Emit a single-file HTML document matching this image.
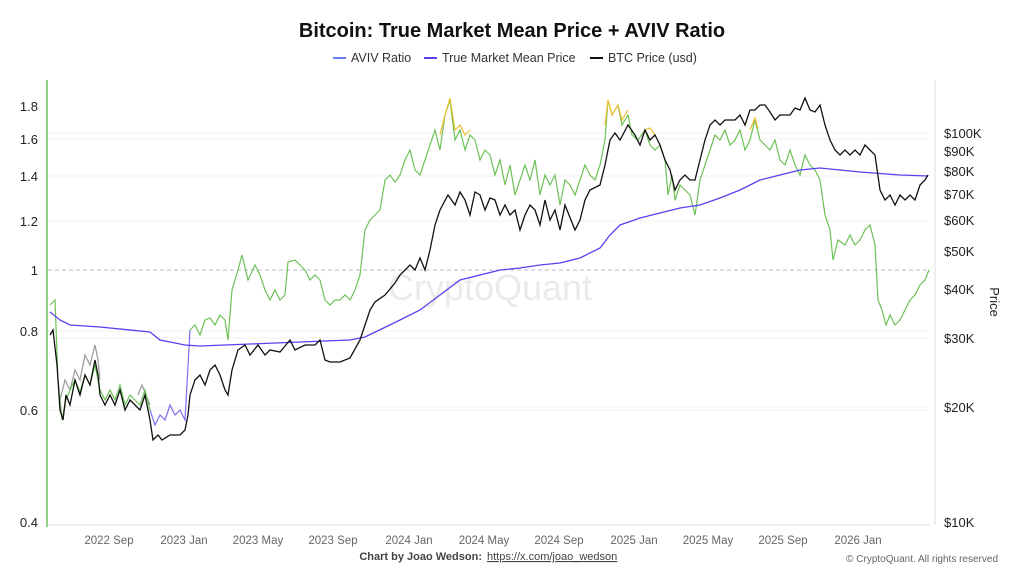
<!DOCTYPE html>
<html><head><style>
body{margin:0;background:#fff;font-family:"Liberation Sans",sans-serif;}
svg text{font-family:"Liberation Sans",sans-serif;}
</style></head><body>
<svg width="1024" height="576" viewBox="0 0 1024 576" xmlns="http://www.w3.org/2000/svg">
<text x="512" y="37" text-anchor="middle" font-size="20" font-weight="bold" fill="#111">Bitcoin: True Market Mean Price + AVIV Ratio</text>
<g font-size="12.5" fill="#333">
<line x1="333" y1="58" x2="346" y2="58" stroke="#6c7ef5" stroke-width="2"/><text x="351" y="62">AVIV Ratio</text>
<line x1="424" y1="58" x2="437" y2="58" stroke="#5b3ff0" stroke-width="2"/><text x="442" y="62">True Market Mean Price</text>
<line x1="590" y1="58" x2="603" y2="58" stroke="#111" stroke-width="2"/><text x="608" y="62">BTC Price (usd)</text>
</g>
<g stroke="#f2f2f2" stroke-width="1">
<line x1="48" y1="139" x2="930" y2="139"/><line x1="48" y1="176" x2="930" y2="176"/><line x1="48" y1="221" x2="930" y2="221"/><line x1="48" y1="331" x2="930" y2="331"/><line x1="48" y1="410" x2="930" y2="410"/><line x1="48" y1="133" x2="930" y2="133"/><line x1="48" y1="338" x2="930" y2="338"/><line x1="48" y1="407" x2="930" y2="407"/>
</g>
<line x1="48" y1="270" x2="930" y2="270" stroke="#b8b8d0" stroke-dasharray="4,3"/>
<line x1="47" y1="80" x2="47" y2="527" stroke="#6cc35a" stroke-width="1.5"/>
<line x1="935" y1="80" x2="935" y2="525" stroke="#ddd"/>
<line x1="48" y1="525" x2="930" y2="525" stroke="#e3e3e3"/>
<g font-size="13" fill="#222" text-anchor="end">
<text x="38" y="111">1.8</text><text x="38" y="144">1.6</text><text x="38" y="181">1.4</text><text x="38" y="226">1.2</text><text x="38" y="275">1</text><text x="38" y="336">0.8</text><text x="38" y="415">0.6</text><text x="38" y="527">0.4</text>
</g>
<g font-size="13" fill="#222">
<text x="944" y="138">$100K</text><text x="944" y="156">$90K</text><text x="944" y="176">$80K</text><text x="944" y="199">$70K</text><text x="944" y="225">$60K</text><text x="944" y="256">$50K</text><text x="944" y="294">$40K</text><text x="944" y="343">$30K</text><text x="944" y="412">$20K</text><text x="944" y="527">$10K</text>
</g>
<text x="990" y="302" font-size="13" fill="#222" transform="rotate(90 990 302)" text-anchor="middle">Price</text>
<g font-size="11.5" fill="#666" text-anchor="middle">
<text x="109" y="544">2022 Sep</text><text x="184" y="544">2023 Jan</text><text x="258" y="544">2023 May</text><text x="333" y="544">2023 Sep</text><text x="409" y="544">2024 Jan</text><text x="484" y="544">2024 May</text><text x="559" y="544">2024 Sep</text><text x="634" y="544">2025 Jan</text><text x="708" y="544">2025 May</text><text x="783" y="544">2025 Sep</text><text x="858" y="544">2026 Jan</text>
</g>
<text x="490" y="300" font-size="36" fill="#000" opacity="0.08" text-anchor="middle">CryptoQuant</text>
<polyline fill="none" stroke="#999" stroke-width="1.2" points="60,400 65,380 70,390 75,370 80,380 85,355 90,365 95,345 98,360 100,380"/>
<polyline fill="none" stroke="#999" stroke-width="1.2" points="138,395 142,385 146,395 150,405"/>
<polyline fill="none" stroke="#6dc257" stroke-width="1.2" points="50,305 55,300 58,380 62,420 66,400 70,390 75,380 80,392 85,375 90,385 95,365 100,390 105,400 110,390 115,400 120,385 125,405 130,395 135,400 140,405 145,390 150,410"/>
<polyline fill="none" stroke="#6dc257" stroke-width="1.2" points="190,330 195,325 200,335 205,320 210,318 215,325 220,315 225,320 228,340 232,290 238,270 242,255 248,280 255,265 260,275 265,290 270,300 275,290 280,300 285,295 288,262 295,260 300,265 305,270 310,280 315,275 320,280 325,300 330,305 335,300 340,300 345,295 350,300 355,290 360,275 365,230 370,220 375,215 380,210 385,180 390,175 395,182 400,175 405,160 410,150 415,170 420,175 425,160 430,145 435,130 440,150 445,115 450,100 455,140 460,130 465,150 470,135 475,140 480,160 485,150 490,155 495,175 500,160 505,185 510,165 515,195 520,180 525,165 530,180 535,160 540,195 545,175 550,185 555,175 560,205 565,180 570,185 575,195 580,180 585,165 590,175 595,180 600,165 605,140 608,100 612,115 618,105 622,125 628,115 632,135 638,140 645,130 650,145 655,150 660,145 665,160 668,195 672,175 675,200 680,185 685,190 690,195 695,215 700,180 705,165 710,150 715,135 720,140 725,130 730,145 735,140 740,130 745,150 750,140 755,120 760,140 765,145 770,150 775,140 780,160 785,165 790,150 795,165 800,175 805,155 810,165 815,170 820,180 825,215 830,230 833,260 838,240 845,245 850,235 855,245 860,240 865,230 870,225 875,245 878,300 882,310 886,325 890,315 895,325 900,320 905,310 910,300 915,295 920,285 925,280 929,270"/>
<polyline fill="none" stroke="#7a6ff0" stroke-width="1.2" points="150,410 155,425 160,415 165,420 170,405 175,415 180,410 185,420 190,330"/>
<g fill="none" stroke="#f0c030" stroke-width="1.2">
<polyline points="440,135 445,115 450,98 455,130 460,125 465,135 470,130"/>
<polyline points="605,125 608,100 612,115 618,105 622,120 628,110"/>
<polyline points="645,130 650,128 655,135"/>
<polyline points="750,130 755,118 758,128"/>
</g>
<polyline fill="none" stroke="#5b3ff0" stroke-width="1.3" points="50,312 60,320 70,325 100,327 150,332 160,340 185,345 200,346 250,344 300,342 350,340 365,337 400,320 420,310 440,295 460,280 480,275 500,270 520,268 540,265 560,263 580,258 600,248 610,235 620,225 640,218 660,213 680,208 700,205 720,198 740,190 760,180 780,175 800,170 820,168 840,170 860,172 900,175 928,176"/>
<polyline fill="none" stroke="#111" stroke-width="1.3" points="50,335 53,330 57,365 60,410 63,420 66,395 70,405 75,380 80,395 85,375 90,385 95,360 98,375 100,395 105,405 110,395 115,405 120,390 125,410 130,400 135,405 140,410 145,395 150,420 153,440 158,435 162,440 170,435 180,435 185,430 188,415 190,395 195,380 200,375 205,385 210,370 215,365 220,375 225,390 228,395 232,370 238,350 245,345 250,355 258,345 265,355 270,350 280,352 290,340 295,350 305,345 315,345 320,340 325,360 330,362 340,362 350,358 360,340 365,325 370,310 375,302 385,295 395,283 400,275 410,265 415,270 420,258 425,270 430,250 435,225 440,210 448,195 455,205 460,192 465,200 470,215 475,192 480,195 485,210 490,198 495,200 500,215 505,205 510,215 515,210 520,230 525,215 530,205 535,210 540,225 545,200 550,220 555,210 560,230 565,205 575,230 580,220 585,200 590,190 600,185 605,165 610,140 615,133 620,140 628,125 635,135 640,145 645,130 650,140 655,135 660,145 665,160 670,170 675,190 680,180 685,175 690,180 695,180 700,160 705,140 710,125 715,120 720,125 725,120 735,120 740,115 745,125 750,110 755,110 760,105 765,105 770,112 775,120 780,115 790,115 795,108 800,110 805,98 810,110 815,112 820,105 825,125 830,140 835,150 840,155 845,150 850,155 855,150 860,155 865,145 870,150 875,155 880,190 885,200 890,195 895,205 900,195 905,200 910,195 915,200 920,185 925,180 928,175"/>
<text x="482" y="560" font-size="11" font-weight="bold" fill="#444" text-anchor="end">Chart by Joao Wedson:</text>
<text x="487" y="560" font-size="11" fill="#444" text-decoration="underline">https://x.com/joao_wedson</text>
<text x="998" y="562" font-size="10" fill="#666" text-anchor="end">© CryptoQuant. All rights reserved</text>
</svg>
</body></html>
